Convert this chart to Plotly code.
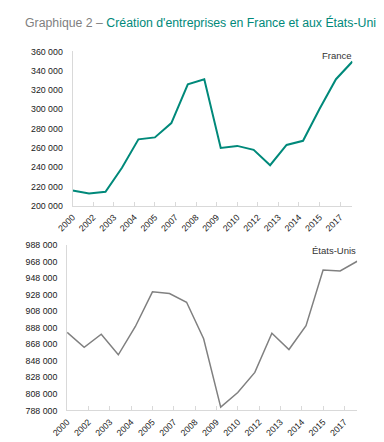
import plotly.graph_objects as go

years_idx = list(range(18))  # 2000..2017, one point per year
tick_labels = ["2000", "2002", "2003", "2004", "2005", "2007", "2008",
               "2009", "2010", "2012", "2013", "2014", "2015", "2017"]
france = [215800, 212800, 214500, 239500, 268900, 270900, 285700, 325900, 331200,
          260000, 262100, 258000, 242100, 263100, 267400, 300300, 331200, 349500]
usa = [882500, 864400, 880100, 855300, 889500, 931300, 929300, 918700, 874700,
       792000, 809700, 834000, 881300, 861700, 890400, 957700, 956500, 968300]

W, H = 384, 442
FONT = "Liberation Sans Narrow, Arial Narrow, Liberation Sans, Arial, sans-serif"
TEAL = "#00897a"
GRAY_LINE = "#808080"
AX = "#d9d9d9"
TXT = "#1a1a1a"

tickvals = [i * 1.25 for i in range(len(tick_labels))]

fig = go.Figure()
fig.add_trace(go.Scatter(x=years_idx, y=france, mode="lines",
                         line=dict(color=TEAL, width=2), xaxis="x", yaxis="y",
                         showlegend=False, hoverinfo="skip"))
fig.add_trace(go.Scatter(x=years_idx, y=usa, mode="lines",
                         line=dict(color=GRAY_LINE, width=1.5), xaxis="x2", yaxis="y2",
                         showlegend=False, hoverinfo="skip"))

def xax(domain, anchor):
    return dict(domain=domain, anchor=anchor, range=[0, 17], tickmode="array",
                tickvals=tickvals, ticktext=tick_labels, tickangle=-45,
                showgrid=False, zeroline=False, showline=True, linecolor=AX,
                linewidth=1, ticks="inside", ticklen=4, tickcolor=AX,
                ticklabelstandoff=2,
                tickfont=dict(family=FONT, size=8.8, color=TXT), fixedrange=True)

def yax(domain, anchor, rng):
    return dict(domain=domain, anchor=anchor, range=rng, dtick=20000, tick0=rng[0],
                tickformat=",.0f", showgrid=False, zeroline=False, showline=True,
                linecolor=AX, linewidth=1, ticks="", ticklen=0,
                ticklabelstandoff=7,
                tickfont=dict(family=FONT, size=8.8, color=TXT), fixedrange=True)

fig.update_layout(
    width=W, height=H,
    margin=dict(l=0, r=0, t=0, b=0),
    paper_bgcolor="white", plot_bgcolor="white",
    separators=", ",
    xaxis=xax([50.7 / W, 342.7 / W], "y"),
    yaxis=yax([1 - 197.3 / H, 1 - 39.3 / H], "x", [200000, 360000]),
    xaxis2=xax([45 / W, 347.7 / W], "y2"),
    yaxis2=yax([1 - 406.7 / H, 1 - 237.3 / H], "x2", [788000, 988000]),
    annotations=[
        dict(xref="paper", yref="paper", x=0, y=1, xanchor="left", yanchor="top",
             xshift=-1, yshift=0, showarrow=False,
             text="<span style='color:#7f7f7f'>Graphique 2 – </span>Création d'entreprises en France et aux États-Unis",
             font=dict(family=FONT, size=12.3, color=TEAL)),
        dict(xref="paper", yref="paper", x=344 / W, y=1 - 43 / H, xanchor="right",
             yanchor="middle", showarrow=False, text="France",
             font=dict(family=FONT, size=9.5, color="#333333")),
        dict(xref="paper", yref="paper", x=349 / W, y=1 - 243 / H, xanchor="right",
             yanchor="middle", showarrow=False, text="États-Unis",
             font=dict(family=FONT, size=9.5, color="#333333")),
    ],
)

fig.write_html("out.html")
